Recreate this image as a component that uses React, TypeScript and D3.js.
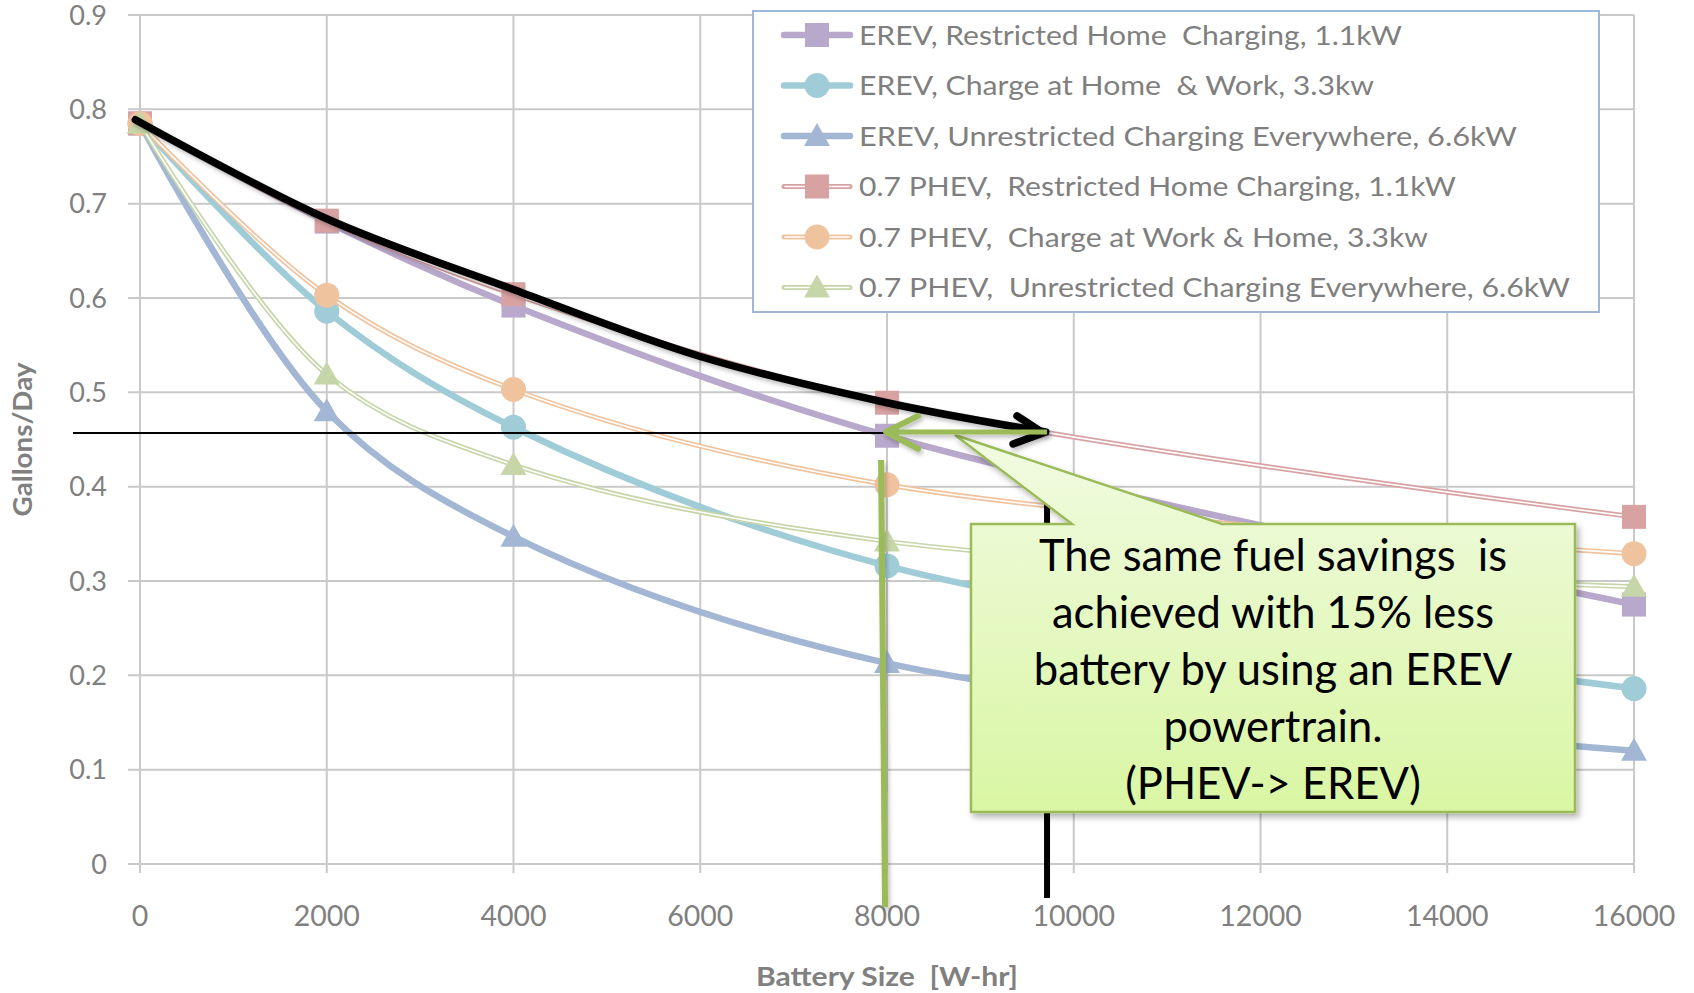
import React from 'react';
import * as d3 from 'd3';

const batterySizes = [0, 2000, 4000, 8000, 16000];
const erevRestricted = [0.785, 0.681, 0.592, 0.454, 0.275];
const erevHomeWork = [0.785, 0.586, 0.463, 0.316, 0.186];
const erevUnrestricted = [0.785, 0.48, 0.347, 0.213, 0.12];
const phevRestricted = [0.785, 0.682, 0.604, 0.489, 0.368];
const phevWorkHome = [0.785, 0.603, 0.503, 0.402, 0.329];
const phevUnrestricted = [0.785, 0.519, 0.423, 0.342, 0.294];

const seriesNames = [
  'EREV, Restricted Home  Charging, 1.1kW',
  'EREV, Charge at Home  & Work, 3.3kw',
  'EREV, Unrestricted Charging Everywhere, 6.6kW',
  '0.7 PHEV,  Restricted Home Charging, 1.1kW',
  '0.7 PHEV,  Charge at Work & Home, 3.3kw',
  '0.7 PHEV,  Unrestricted Charging Everywhere, 6.6kW',
];
const seriesValues = [erevRestricted, erevHomeWork, erevUnrestricted, phevRestricted, phevWorkHome, phevUnrestricted];
const seriesColors = ['#b8a8cb', '#a0ccd7', '#a3b7d5', '#d8a2a3', '#f0c39f', '#c6d6a8'];
const seriesMarkers = ['square', 'circle', 'triangle', 'square', 'circle', 'triangle'];
const seriesDouble = [false, false, false, true, true, true];

const xTicks = [0, 2000, 4000, 6000, 8000, 10000, 12000, 14000, 16000];
const yTicks = [0, 0.1, 0.2, 0.3, 0.4, 0.5, 0.6, 0.7, 0.8, 0.9];

// annotation (hand-drawn arrow along the PHEV curve) in data space
const annotationX = [-50, 2000, 4000, 6000, 8000, 9700];
const annotationY = [0.789, 0.684, 0.609, 0.538, 0.489, 0.458];
const targetLevel = 0.457;
const erevSize = 7990;
const phevSize = 9714;
const thinLineStart = -717;

const calloutLines = [
  'The same fuel savings  is',
  'achieved with 15% less',
  'battery by using an EREV',
  'powertrain.',
  '(PHEV-> EREV)',
];

// layout: rendered widths of the legend labels (to mimic the original font's metrics)
const legendTextWidths = [543, 515, 658, 597, 569, 711];

const W = 1694;
const H = 993;
const FONT = 'Lato, "Open Sans", sans-serif';

function Marker({ kind, x, y, color }: { kind: string; x: number; y: number; color: string }) {
  if (kind === 'square') return <rect x={x - 12} y={y - 12} width={24} height={24} fill={color} />;
  if (kind === 'circle') return <circle cx={x} cy={y} r={12.5} fill={color} />;
  return <path d={`M${x},${y - 13} L${x + 13},${y + 10} L${x - 13},${y + 10} Z`} fill={color} />;
}

export default function App() {
  const x = d3.scaleLinear().domain([0, 16000]).range([140, 1634]);
  const y = d3.scaleLinear().domain([0, 0.9]).range([864, 15]);

  const line = d3
    .line<[number, number]>()
    .x((d) => x(d[0]))
    .y((d) => y(d[1]))
    .curve(d3.curveCatmullRom.alpha(0.5));

  const annotPath = line(annotationX.map((v, i) => [v, annotationY[i]] as [number, number])) || '';

  const gridColor = '#c9c9c9';
  const tickColor = '#808080';

  const legendX = 753;
  const legendY = 11;
  const legendW = 846;
  const legendH = 301;
  const rowY = (i: number) => 35 + i * 50.5;

  const tipX = x(phevSize);
  const tipY = y(targetLevel);
  const erevX = x(erevSize);

  return (
    <svg width={W} height={H} style={{ position: 'absolute', left: 0, top: 0, background: '#fff' }}>
      <defs>
        <linearGradient id="calloutFill" x1="0" y1="0" x2="0" y2="1">
          <stop offset="0%" stopColor="#f1fbe2" />
          <stop offset="100%" stopColor="#d9f6a3" />
        </linearGradient>
        <filter id="shadow" x="-10%" y="-10%" width="130%" height="130%">
          <feDropShadow dx="3" dy="4" stdDeviation="3" floodColor="#000" floodOpacity="0.3" />
        </filter>
        <filter id="shadowSmall" x="-10%" y="-10%" width="130%" height="130%">
          <feDropShadow dx="2" dy="3" stdDeviation="2" floodColor="#000" floodOpacity="0.25" />
        </filter>
      </defs>

      {/* gridlines */}
      {yTicks.map((t) => (
        <line key={'gy' + t} x1={128} x2={x(16000)} y1={y(t)} y2={y(t)} stroke={gridColor} strokeWidth={2} />
      ))}
      {xTicks.map((t) => (
        <line key={'gx' + t} x1={x(t)} x2={x(t)} y1={y(0.9)} y2={y(0) + 9} stroke={gridColor} strokeWidth={2} />
      ))}

      {/* tick labels */}
      {yTicks.map((t) => (
        <text key={'ly' + t} x={107} y={y(t)} dy="0.36em" textAnchor="end" fontFamily={FONT} fontSize={27} fill={tickColor}>
          {String(+t.toFixed(1))}
        </text>
      ))}
      {xTicks.map((t) => (
        <text key={'lx' + t} x={x(t)} y={926} textAnchor="middle" fontFamily={FONT} fontSize={28.5} fill={tickColor}>
          {String(t)}
        </text>
      ))}

      {/* axis titles */}
      <text
        x={x(8000)}
        y={986}
        textAnchor="middle"
        fontFamily={FONT}
        fontSize={27}
        fontWeight="bold"
        fill={tickColor}
        textLength={262}
        lengthAdjust="spacingAndGlyphs"
        style={{ whiteSpace: 'pre' }}
      >
        Battery Size  [W-hr]
      </text>
      <text
        transform={`translate(32,${y(0.45)}) rotate(-90)`}
        textAnchor="middle"
        fontFamily={FONT}
        fontSize={27}
        fontWeight="bold"
        fill={tickColor}
        textLength={154}
        lengthAdjust="spacingAndGlyphs"
      >
        Gallons/Day
      </text>

      {/* series */}
      {seriesValues.map((vals, si) => {
        const pts = vals.map((v, i) => [batterySizes[i], v] as [number, number]);
        const d = line(pts) || '';
        const color = seriesColors[si];
        return (
          <g key={'s' + si}>
            {seriesDouble[si] ? (
              <>
                <path d={d} fill="none" stroke={color} strokeWidth={5} />
                <path d={d} fill="none" stroke="#fff" strokeWidth={1.6} />
              </>
            ) : (
              <path d={d} fill="none" stroke={color} strokeWidth={6.5} />
            )}
            {pts.map((p, i) => (
              <Marker key={i} kind={seriesMarkers[si]} x={x(p[0])} y={y(p[1])} color={color} />
            ))}
          </g>
        );
      })}

      {/* legend */}
      <rect x={legendX} y={legendY} width={legendW} height={legendH} fill="#fff" stroke="#9db8da" strokeWidth={2} />
      {seriesNames.map((name, i) => {
        const cy = rowY(i);
        const color = seriesColors[i];
        return (
          <g key={'lg' + i}>
            {seriesDouble[i] ? (
              <>
                <line x1={784} x2={850} y1={cy} y2={cy} stroke={color} strokeWidth={5} strokeLinecap="round" />
                <line x1={785} x2={849} y1={cy} y2={cy} stroke="#fff" strokeWidth={1.6} strokeLinecap="round" />
              </>
            ) : (
              <line x1={784} x2={850} y1={cy} y2={cy} stroke={color} strokeWidth={6.5} strokeLinecap="round" />
            )}
            <Marker kind={seriesMarkers[i]} x={817} y={cy} color={color} />
            <text
              x={859}
              y={cy}
              dy="0.35em"
              fontFamily={FONT}
              fontSize={27.5}
              fill="#7f7f7f"
              textLength={legendTextWidths[i]}
              lengthAdjust="spacingAndGlyphs"
              style={{ whiteSpace: 'pre' }}
            >
              {name}
            </text>
          </g>
        );
      })}

      {/* thick black vertical (behind callout) */}
      <line x1={tipX} x2={tipX} y1={503} y2={898} stroke="#000" strokeWidth={6} />

      {/* callout */}
      <path
        d={`M971,524 L1072,524 L955,435 L1222,524 L1575,524 L1575,812 L971,812 Z`}
        fill="url(#calloutFill)"
        stroke="#9bbb59"
        strokeWidth={2.5}
        filter="url(#shadow)"
      />
      {calloutLines.map((t, i) => (
        <text key={'c' + i} x={1273} y={571 + i * 57} textAnchor="middle" fontFamily={FONT} fontSize={43.5} fill="#000" style={{ whiteSpace: 'pre' }}>
          {t}
        </text>
      ))}

      {/* thin black reference line */}
      <line x1={x(thinLineStart)} x2={tipX} y1={tipY} y2={tipY} stroke="#000" strokeWidth={2} />

      {/* black annotation curve with arrowhead */}
      <g filter="url(#shadowSmall)">
        <path d={annotPath} fill="none" stroke="#000" strokeWidth={7.5} strokeLinecap="round" />
        <path
          d={`M${tipX - 30},${tipY - 17} L${tipX - 4},${tipY} L${tipX - 34},${tipY + 11}`}
          fill="none"
          stroke="#000"
          strokeWidth={7.5}
          strokeLinecap="round"
          strokeLinejoin="round"
        />
      </g>

      {/* green arrow */}
      <g filter="url(#shadowSmall)">
        <line x1={tipX} x2={erevX} y1={tipY - 1} y2={tipY - 1} stroke="#9bbb59" strokeWidth={5} />
        <path
          d={`M${erevX + 32},${tipY - 17} L${erevX},${tipY - 1} L${erevX + 32},${tipY + 16}`}
          fill="none"
          stroke="#9bbb59"
          strokeWidth={6}
          strokeLinecap="round"
          strokeLinejoin="round"
        />
        <line x1={erevX - 5} x2={erevX - 1} y1={460} y2={907} stroke="#9bbb59" strokeWidth={6} />
      </g>
    </svg>
  );
}
